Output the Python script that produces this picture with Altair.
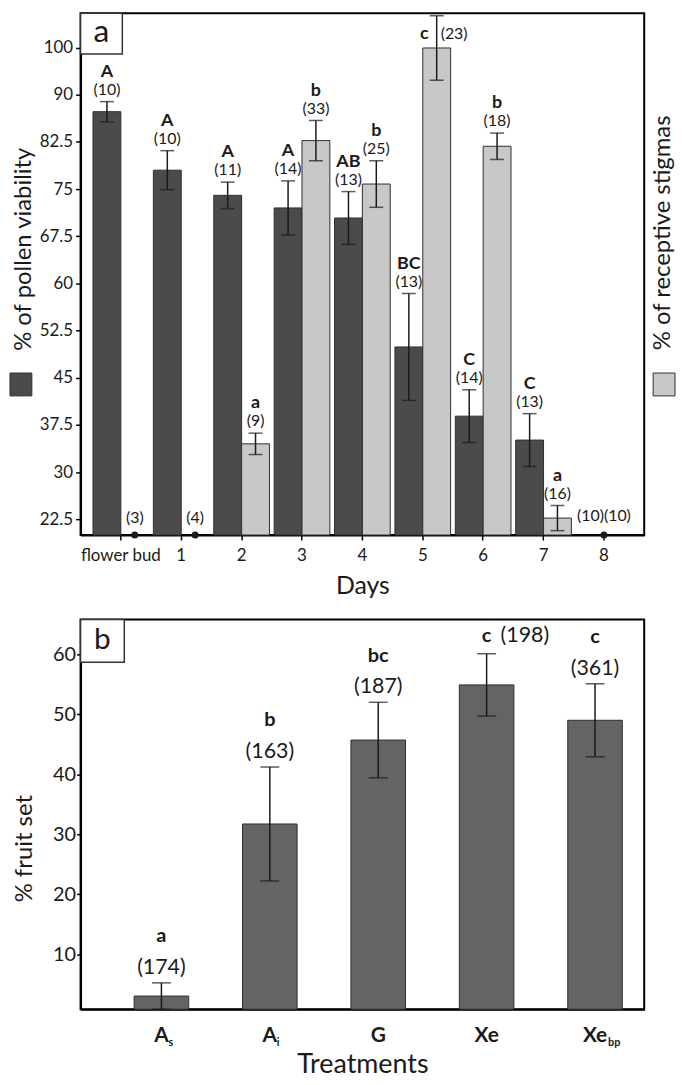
import altair as alt
import pandas as pd

# ---------------- data: panel a ----------------
days = ["flower bud", "1", "2", "3", "4", "5", "6", "7", "8"]
series_names = ["pollen", "stigma"]
pollen_mean = [87.3, 78.0, 74.0, 72.0, 70.4, 49.9, 38.9, 35.1, 0]
pollen_err = [1.6, 3.1, 2.1, 4.3, 4.2, 8.5, 4.2, 4.2, 0]
pollen_letter = ["A", "A", "A", "A", "AB", "BC", "C", "C", ""]
pollen_n = ["(10)", "(10)", "(11)", "(14)", "(13)", "(13)", "(14)", "(13)", "(10)"]
stigma_mean = [0, 0, 34.5, 82.7, 75.8, 100, 81.8, 22.7, 0]
stigma_err = [0, 0, 1.7, 3.2, 3.7, 6.9, 2.1, 2.0, 0]
stigma_letter = ["", "", "a", "b", "b", "c", "b", "a", ""]
stigma_n = ["(3)", "(4)", "(9)", "(33)", "(25)", "(23)", "(18)", "(16)", "(10)"]
y_ticks_a = [22.5, 30, 37.5, 45, 52.5, 60, 67.5, 75, 82.5, 90, 100]

# ---------------- data: panel b ----------------
treatments = ["As", "Ai", "G", "Xe", "Xebp"]
treat_main = ["A", "A", "G", "Xe", "Xe"]
treat_sub = ["s", "i", "", "", "bp"]
fruit_mean = [3.0, 31.7, 45.7, 54.9, 49.0]
fruit_err = [2.2, 9.5, 6.3, 5.2, 6.1]
fruit_letter = ["a", "b", "bc", "c", "c"]
fruit_n = ["(174)", "(163)", "(187)", "(198)", "(361)"]
y_ticks_b = [10, 20, 30, 40, 50, 60]

DARK = "#4b4b4b"
LIGHT = "#c8c8c8"
MID = "#646464"
INK = "#1a1a1a"
FONT = "Lato"

# ---------------- tables ----------------
rows = []
for i, d in enumerate(days):
    for s, m, e, l, n in [
        ("pollen", pollen_mean[i], pollen_err[i], pollen_letter[i], pollen_n[i]),
        ("stigma", stigma_mean[i], stigma_err[i], stigma_letter[i], stigma_n[i]),
    ]:
        rows.append(dict(day=d, series=s, mean=m, lo=m - e, hi=m + e, letter=l, n=n))
top_df = pd.DataFrame(rows)
pos_df = top_df[top_df["mean"] > 0]
zero = top_df[top_df["mean"] == 0]
both_days = [d for d in days if (zero["day"] == d).sum() == 2]
zero_single = zero[~zero["day"].isin(both_days)]
zero_both = pd.DataFrame(
    {"day": both_days, "n": ["".join(zero[zero["day"] == d]["n"]) for d in both_days]}
)

bot_df = pd.DataFrame(
    dict(
        treat=treatments,
        main=treat_main,
        sub=treat_sub,
        mean=fruit_mean,
        lo=[max(m - e, 0.8) for m, e in zip(fruit_mean, fruit_err)],
        hi=[m + e for m, e in zip(fruit_mean, fruit_err)],
        letter=fruit_letter,
        n=fruit_n,
    )
)

# ---------------- panel a ----------------
W1, H1 = 567, 525
yscale_a = alt.Scale(domain=[20, 90, 107.45], range=[H1, 82, 0], zero=False, nice=False)
x_a = alt.X(
    "day:N",
    scale=alt.Scale(domain=days, paddingInner=0.078, paddingOuter=0.206),
    axis=alt.Axis(
        title="Days", labelAngle=0, labelFontSize=17, labelPadding=8, tickSize=5,
        titleFontSize=25, titleY=59, titleBaseline="alphabetic",
    ),
)
xo = alt.XOffset("series:N", scale=alt.Scale(domain=series_names, paddingInner=0, paddingOuter=0))
y_axis_a = alt.Axis(
    values=y_ticks_a, format="~g", labelFontSize=17, tickSize=5, labelPadding=3,
    title="% of pollen viability", titleFontSize=24, titleX=-57, titleY=237,
    titleBaseline="middle", titleAlign="center", titleAngle=-90,
)
base_a = alt.Chart(pos_df)
bars_a = base_a.mark_bar(stroke="#2e2e2e", strokeWidth=1).encode(
    x=x_a, xOffset=xo,
    y=alt.Y("mean:Q", scale=yscale_a, axis=y_axis_a),
    y2=alt.datum(20),
    color=alt.Color("series:N", scale=alt.Scale(domain=series_names, range=[DARK, LIGHT]), legend=None),
)
err_a = base_a.mark_rule(color=INK, strokeWidth=1.5).encode(
    x=x_a, xOffset=xo, y=alt.Y("lo:Q", scale=yscale_a), y2="hi:Q"
)
cap_hi_a = base_a.mark_tick(color=INK, size=14, thickness=1.5).encode(
    x=x_a, xOffset=xo, y=alt.Y("hi:Q", scale=yscale_a)
)
cap_lo_a = base_a.mark_tick(color=INK, size=14, thickness=1.5).encode(
    x=x_a, xOffset=xo, y=alt.Y("lo:Q", scale=yscale_a)
)
side_a = "datum.day == '5' && datum.series == 'stigma'"
letters_a = base_a.transform_filter("!(" + side_a + ")").mark_text(
    fontSize=18, fontWeight="bold", color=INK, dy=-30, baseline="middle"
).encode(x=x_a, xOffset=xo, y=alt.Y("hi:Q", scale=yscale_a), text="letter:N")
ns_a = base_a.transform_filter("!(" + side_a + ")").mark_text(
    fontSize=16, color=INK, dy=-12, baseline="middle"
).encode(x=x_a, xOffset=xo, y=alt.Y("hi:Q", scale=yscale_a), text="n:N")
side_letter_a = base_a.transform_filter(side_a).mark_text(
    fontSize=18, fontWeight="bold", color=INK, dy=18, dx=-8, align="right", baseline="middle"
).encode(x=x_a, xOffset=xo, y=alt.Y("hi:Q", scale=yscale_a), text="letter:N")
side_n_a = base_a.transform_filter(side_a).mark_text(
    fontSize=16, color=INK, dy=18, dx=4, align="left", baseline="middle"
).encode(x=x_a, xOffset=xo, y=alt.Y("hi:Q", scale=yscale_a), text="n:N")

dots_single = alt.Chart(zero_single).mark_circle(color=INK, size=50, opacity=1).encode(
    x=x_a, xOffset=xo, y=alt.datum(20, scale=yscale_a)
)
dots_single_n = alt.Chart(zero_single).mark_text(fontSize=16, color=INK, dy=-17, baseline="middle").encode(
    x=x_a, xOffset=xo, y=alt.datum(20, scale=yscale_a), text="n:N"
)
dots_both = alt.Chart(zero_both).mark_circle(color=INK, size=50, opacity=1).encode(
    x=x_a, y=alt.datum(20, scale=yscale_a)
)
dots_both_n = alt.Chart(zero_both).mark_text(fontSize=16, color=INK, dy=-19, baseline="middle").encode(
    x=x_a, y=alt.datum(20, scale=yscale_a), text="n:N"
)

lab_a = pd.DataFrame({"label": ["a"], "right": ["% of receptive stigmas"]})
box_a = alt.Chart(lab_a).mark_rect(fill="white", stroke="#333", strokeWidth=1.5).encode(
    x=alt.value(0), x2=alt.value(42), y=alt.value(0), y2=alt.value(41)
)
box_a_t = alt.Chart(lab_a).mark_text(fontSize=32, color=INK, baseline="middle").encode(
    x=alt.value(21), y=alt.value(19), text="label:N"
)
right_title = alt.Chart(lab_a).mark_text(fontSize=24, color=INK, angle=270, baseline="middle").encode(
    x=alt.value(W1 + 19), y=alt.value(221), text="right:N"
)
sq_dark = alt.Chart(lab_a).mark_rect(fill=DARK, stroke="#2e2e2e", strokeWidth=1).encode(
    x=alt.value(-71), x2=alt.value(-49), y=alt.value(362), y2=alt.value(385)
)
sq_light = alt.Chart(lab_a).mark_rect(fill=LIGHT, stroke="#2e2e2e", strokeWidth=1).encode(
    x=alt.value(W1 + 9), x2=alt.value(W1 + 31), y=alt.value(362), y2=alt.value(385)
)

panel_a = alt.layer(
    bars_a, err_a, cap_hi_a, cap_lo_a, letters_a, ns_a, side_letter_a, side_n_a,
    dots_single, dots_single_n, dots_both, dots_both_n,
    box_a, box_a_t, right_title, sq_dark, sq_light,
).properties(width=W1, height=H1)

# ---------------- panel b ----------------
W2, H2 = 567, 392
yscale_b = alt.Scale(domain=[0.8, 65.8], zero=False, nice=False)
x_b = alt.X(
    "treat:N",
    scale=alt.Scale(domain=treatments, paddingInner=0.4966, paddingOuter=0.348, align=0.71),
    axis=alt.Axis(
        labels=False, ticks=False, title="Treatments", titleFontSize=27,
        titleY=64, titleBaseline="alphabetic",
    ),
)
y_axis_b = alt.Axis(
    values=y_ticks_b, format="d", labelFontSize=20, tickSize=4, labelPadding=1,
    title="% fruit set", titleFontSize=24, titleX=-56, titleY=230,
    titleBaseline="middle", titleAlign="center", titleAngle=-90,
)
base_b = alt.Chart(bot_df)
bars_b = base_b.mark_bar(color=MID, stroke="#2e2e2e", strokeWidth=1).encode(
    x=x_b, y=alt.Y("mean:Q", scale=yscale_b, axis=y_axis_b), y2=alt.datum(0.8)
)
err_b = base_b.mark_rule(color=INK, strokeWidth=1.5).encode(
    x=x_b, y=alt.Y("lo:Q", scale=yscale_b), y2="hi:Q"
)
cap_hi_b = base_b.mark_tick(color=INK, size=19, thickness=1.5).encode(
    x=x_b, y=alt.Y("hi:Q", scale=yscale_b)
)
cap_lo_b = base_b.mark_tick(color=INK, size=19, thickness=1.5).encode(
    x=x_b, y=alt.Y("lo:Q", scale=yscale_b)
)
side_b = "datum.treat == 'Xe'"
letters_b = base_b.transform_filter("!(" + side_b + ")").mark_text(
    fontSize=20, fontWeight="bold", color=INK, dy=-47, baseline="middle"
).encode(x=x_b, y=alt.Y("hi:Q", scale=yscale_b), text="letter:N")
ns_b = base_b.transform_filter("!(" + side_b + ")").mark_text(
    fontSize=21.5, color=INK, dy=-15, baseline="middle"
).encode(x=x_b, y=alt.Y("hi:Q", scale=yscale_b), text="n:N")
side_letter_b = base_b.transform_filter(side_b).mark_text(
    fontSize=20, fontWeight="bold", color=INK, dy=-18, baseline="middle"
).encode(x=x_b, y=alt.Y("hi:Q", scale=yscale_b), text="letter:N")
side_n_b = base_b.transform_filter(side_b).mark_text(
    fontSize=21.5, color=INK, dy=-18, dx=14, align="left", baseline="middle"
).encode(x=x_b, y=alt.Y("hi:Q", scale=yscale_b), text="n:N")

xlab_main = base_b.mark_text(fontSize=21, fontWeight="bold", color=INK, baseline="middle").encode(
    x=x_b, y=alt.value(H2 + 27), text="main:N"
)
xlab_sub_a = base_b.transform_filter("datum.main == 'A'").mark_text(
    fontSize=11, fontWeight="bold", color=INK, baseline="middle", align="left", dx=7
).encode(x=x_b, y=alt.value(H2 + 34), text="sub:N")
xlab_sub_xe = base_b.transform_filter("datum.main == 'Xe'").mark_text(
    fontSize=11, fontWeight="bold", color=INK, baseline="middle", align="left", dx=13
).encode(x=x_b, y=alt.value(H2 + 34), text="sub:N")

lab_b = pd.DataFrame({"label": ["b"]})
box_b = alt.Chart(lab_b).mark_rect(fill="white", stroke="#333", strokeWidth=1.5).encode(
    x=alt.value(0), x2=alt.value(44), y=alt.value(0), y2=alt.value(43)
)
box_b_t = alt.Chart(lab_b).mark_text(fontSize=30, color=INK, baseline="middle").encode(
    x=alt.value(22), y=alt.value(21), text="label:N"
)

panel_b = alt.layer(
    bars_b, err_b, cap_hi_b, cap_lo_b, letters_b, ns_b, side_letter_b, side_n_b,
    xlab_main, xlab_sub_a, xlab_sub_xe, box_b, box_b_t,
).properties(width=W2, height=H2)

chart = (
    alt.vconcat(panel_a, panel_b, spacing=18)
    .properties(padding=0)
    .configure(font=FONT)
    .configure_view(stroke="black", strokeWidth=2)
    .configure_axis(
        grid=False, domainColor="black", domainWidth=2, tickColor="black", tickWidth=1.5,
        labelColor=INK, titleColor=INK, titleFontWeight="normal", labelFont=FONT, titleFont=FONT,
    )
)

chart.save("out.html", embed_options={"renderer": "svg", "actions": False})
